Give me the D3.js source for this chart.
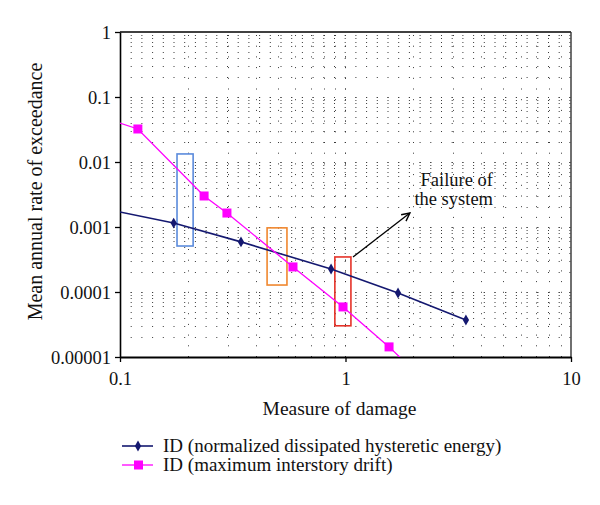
<meta charset="utf-8">
<style type="text/css">
    body { margin: 0; background: #fff; }
    text { font-family: "Liberation Serif", "DejaVu Serif", serif; fill: #111; }
    .grid line { stroke: #3a3a3a; stroke-width: 1; stroke-dasharray: 1 9.7; }
    .axis path, .axis line { stroke: #000; }
</style>
<body>
<script src="https://d3js.org/d3.v7.min.js"></script>
<script>

// data (points outside the axes are clipped, as in the original)
var energyX = [0.08, 0.173, 0.344, 0.863, 1.71, 3.42];
var energyY = [0.0020, 0.00115, 0.00059, 0.000226, 0.0000966, 0.0000371];
var driftX = [0.08, 0.12, 0.236, 0.298, 0.585, 0.975, 1.56, 2.0];
var driftY = [0.051, 0.0322, 0.0030, 0.00164, 0.000243, 0.0000589, 0.0000143, 0.0000063];

var seriesNames = ["ID (normalized dissipated hysteretic energy)", "ID (maximum interstory drift)"];
var xTicks = [0.1, 1, 10];
var yTicks = [0.00001, 0.0001, 0.001, 0.01, 0.1, 1];
var yTickLabels = ["0.00001", "0.0001", "0.001", "0.01", "0.1", "1"];

// highlighted boxes: [x0, x1, yTop, yBottom]
var boxes = [
    {c: "#5b8bdc", v: [0.179, 0.211, 0.0133, 0.00051]},
    {c: "#f0872e", v: [0.449, 0.550, 0.00097, 0.000128]},
    {c: "#e53228", v: [0.897, 1.057, 0.000346, 0.0000302]}
];
var arrowFrom = [1.08, 0.000346], arrowTo = [1.93, 0.00164];
var noteLines = ["Failure of", "the system"];

var margin = {top: 32, right: 29, bottom: 148, left: 120},
    width = 600 - margin.left - margin.right,
    height = 505 - margin.top - margin.bottom;

var x = d3.scaleLog().domain([0.1, 10]).range([0, width]);
var y = d3.scaleLog().domain([0.00001, 1]).range([height, 0]);

var svg = d3.select("body").append("svg")
    .attr("width", 600)
    .attr("height", 505)
  .append("g")
    .attr("transform", "translate(" + margin.left + "," + margin.top + ")");

svg.append("defs").append("clipPath").attr("id", "plot")
  .append("rect").attr("width", width).attr("height", height);

// dotted grid
var minorX = [], minorY = [];
[0.1, 1].forEach(function(d) { for (var k = 1; k <= 10; k++) minorX.push(d * k); });
[0.00001, 0.0001, 0.001, 0.01, 0.1].forEach(function(d) { for (var k = 1; k <= 10; k++) minorY.push(d * k); });

var grid = svg.append("g").attr("class", "grid");
grid.selectAll(".h").data(minorY.filter(function(d) { return d > 0.0000101 && d < 0.99; }))
  .enter().append("line")
    .attr("x1", 0).attr("x2", width)
    .attr("y1", function(d) { return Math.round(y(d)) + 0.5; })
    .attr("y2", function(d) { return Math.round(y(d)) + 0.5; });
grid.selectAll(".v").data(minorX.filter(function(d) { return d > 0.101 && d < 9.9; }))
  .enter().append("line")
    .attr("y1", height).attr("y2", 0)
    .attr("x1", function(d) { return Math.round(x(d)) + 0.5; })
    .attr("x2", function(d) { return Math.round(x(d)) + 0.5; });

// frame
svg.append("line").attr("x1", 0).attr("x2", width).attr("y1", 0).attr("y2", 0)
    .attr("stroke", "#000").attr("stroke-width", 1.6);
svg.append("line").attr("x1", width).attr("x2", width).attr("y1", 0).attr("y2", height)
    .attr("stroke", "#333").attr("stroke-width", 1.4);

// axes
var xAxis = svg.append("g").attr("class", "axis")
    .attr("transform", "translate(0," + height + ")")
    .call(d3.axisBottom(x).tickValues(xTicks).tickSize(5).tickSizeOuter(0)
        .tickFormat(function(d) { return String(d); }));
xAxis.select(".domain").attr("stroke-width", 2);
xAxis.selectAll(".tick line").attr("stroke-width", 1.3);
xAxis.selectAll(".tick text").attr("dy", null).attr("y", 28)
    .style("font-size", "18.5px").attr("fill", "#111");

var yAxis = svg.append("g").attr("class", "axis")
    .call(d3.axisLeft(y).tickValues(yTicks).tickSize(5).tickSizeOuter(0)
        .tickFormat(function(d, i) { return yTickLabels[i]; }));
yAxis.select(".domain").attr("stroke-width", 1.6);
yAxis.selectAll(".tick line").attr("stroke-width", 1.3);
yAxis.selectAll(".tick text").attr("x", -9).attr("dy", "0.35em")
    .style("font-size", "18.5px").attr("fill", "#111");
svg.selectAll(".axis text").style("font-family", "Liberation Serif");

// axis titles
svg.append("text")
    .attr("x", width / 2 - 6).attr("y", height + 58)
    .attr("text-anchor", "middle")
    .style("font-size", "19.5px")
    .text("Measure of damage");
svg.append("text")
    .attr("transform", "translate(-78," + (height / 2 - 3) + ") rotate(-90)")
    .attr("text-anchor", "middle")
    .style("font-size", "20px")
    .text("Mean annual rate of exceedance");

// series
var line = d3.line()
    .x(function(d) { return x(d[0]); })
    .y(function(d) { return y(d[1]); });
var energy = energyX.map(function(d, i) { return [d, energyY[i]]; });
var drift = driftX.map(function(d, i) { return [d, driftY[i]]; });

var plot = svg.append("g").attr("clip-path", "url(#plot)");

// boxes
plot.selectAll(".box").data(boxes).enter().append("rect")
    .attr("x", function(d) { return x(d.v[0]); })
    .attr("y", function(d) { return y(d.v[2]); })
    .attr("width", function(d) { return x(d.v[1]) - x(d.v[0]); })
    .attr("height", function(d) { return y(d.v[3]) - y(d.v[2]); })
    .attr("fill", "none")
    .attr("stroke", function(d) { return d.c; })
    .attr("stroke-width", 1.6);

plot.append("path").datum(energy)
    .attr("d", line).attr("fill", "none")
    .attr("stroke", "#141870").attr("stroke-width", 1.6);
plot.append("path").datum(drift)
    .attr("d", line).attr("fill", "none")
    .attr("stroke", "#f0f").attr("stroke-width", 1.3);

var diamond = d3.symbol().type(d3.symbolDiamond).size(34);
plot.selectAll(".dia").data(energy).enter().append("path")
    .attr("d", diamond)
    .attr("transform", function(d) { return "translate(" + x(d[0]) + "," + y(d[1]) + ")"; })
    .attr("fill", "#141870");
plot.selectAll(".sq").data(drift).enter().append("rect")
    .attr("x", function(d) { return x(d[0]) - 4.5; })
    .attr("y", function(d) { return y(d[1]) - 4.5; })
    .attr("width", 9).attr("height", 9)
    .attr("fill", "#f0f");

// arrow annotation
svg.append("defs").append("marker")
    .attr("id", "arrow").attr("viewBox", "0 0 10 10")
    .attr("refX", 9).attr("refY", 5)
    .attr("markerWidth", 10).attr("markerHeight", 10)
    .attr("markerUnits", "userSpaceOnUse")
    .attr("orient", "auto")
  .append("path").attr("d", "M1,1 L9,5 L1,9")
    .attr("fill", "none").attr("stroke", "#000").attr("stroke-width", 1.4);
svg.append("line")
    .attr("x1", x(arrowFrom[0])).attr("y1", y(arrowFrom[1]))
    .attr("x2", x(arrowTo[0])).attr("y2", y(arrowTo[1]))
    .attr("stroke", "#000").attr("stroke-width", 1.3)
    .attr("marker-end", "url(#arrow)");

svg.selectAll(".note").data(noteLines).enter().append("text")
    .attr("x", 373).attr("y", function(d, i) { return 154 + i * 19; })
    .attr("text-anchor", "end")
    .style("font-size", "18.5px")
    .text(function(d) { return d; });

// legend
var legend = svg.append("g").attr("transform", "translate(2," + (height + 89) + ")");
var items = legend.selectAll("g").data(seriesNames).enter().append("g")
    .attr("transform", function(d, i) { return "translate(0," + i * 19 + ")"; });
items.append("line").attr("x1", 0).attr("x2", 31)
    .attr("stroke", function(d, i) { return i ? "#f0f" : "#141870"; })
    .attr("stroke-width", function(d, i) { return i ? 1.3 : 1.6; });
items.filter(function(d, i) { return i === 0; }).append("path")
    .attr("d", diamond).attr("transform", "translate(16,0)").attr("fill", "#141870");
items.filter(function(d, i) { return i === 1; }).append("rect")
    .attr("x", 12).attr("y", -4.5).attr("width", 9).attr("height", 9).attr("fill", "#f0f");
items.append("text").attr("x", 41).attr("y", 6)
    .style("font-size", "19px")
    .text(function(d) { return d; });

</script>
</body>
